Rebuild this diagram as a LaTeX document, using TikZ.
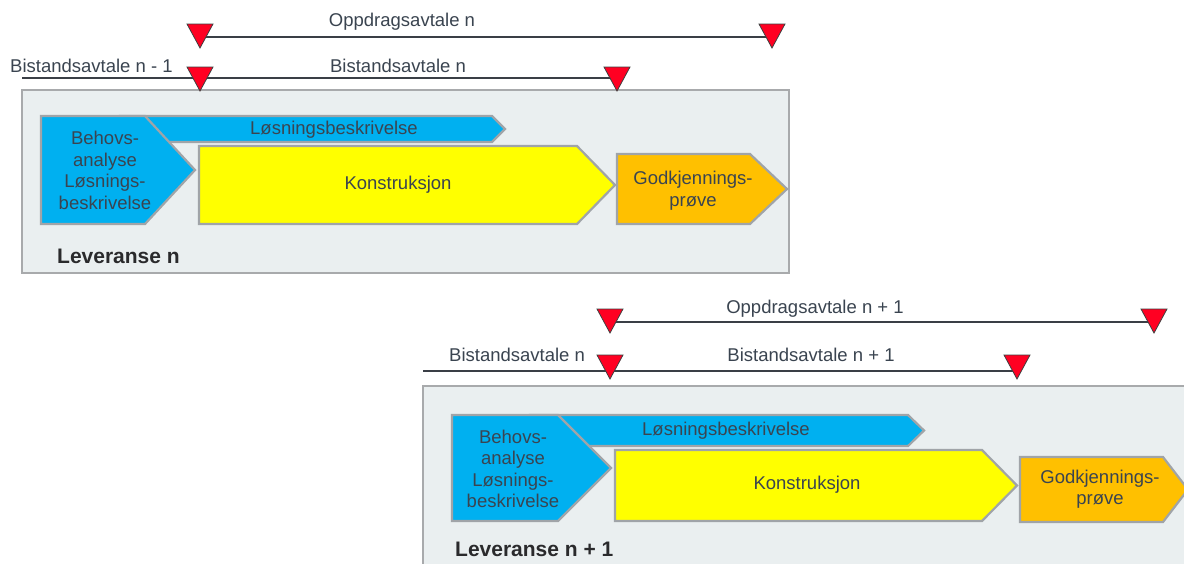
\documentclass[tikz,border=0pt]{standalone}
\usepackage{fontspec}
\setmainfont{Liberation Sans}
\begin{document}
\begin{tikzpicture}[x=1pt,y=-1pt,
  txt/.style={text=textc,font=\fontsize{18.5}{21.5}\selectfont,inner sep=0pt,align=center},
  bold/.style={text=boldc,font=\fontsize{21}{24}\selectfont\bfseries,inner sep=0pt,anchor=west},
  tline/.style={draw=linec,line width=1.6},
  redmark/.style={fill=markred,draw=black!75,line width=0.8},
  frame/.style={fill=boxfill,draw=boxborder,line width=2.5},
  blueshape/.style={fill=blueF,draw=shapeborder,line width=2.2},
  yellowshape/.style={fill=yellowF,draw=shapeborder,line width=2.2},
  orangeshape/.style={fill=orangeF,draw=shapeborder,line width=2.2}]
\definecolor{textc}{HTML}{3A4450}
\definecolor{boldc}{HTML}{2A2A2C}
\definecolor{linec}{HTML}{3A3F46}
\definecolor{markred}{HTML}{FF0022}
\definecolor{boxfill}{HTML}{EAEFF0}
\definecolor{boxborder}{HTML}{A8AAAC}
\definecolor{shapeborder}{HTML}{A0A4A8}
\definecolor{blueF}{HTML}{00B0F0}
\definecolor{yellowF}{HTML}{FFFF00}
\definecolor{orangeF}{HTML}{FFC000}
\clip (0,0) rectangle (1184,563);
\fill[white] (0,0) rectangle (1184,563);

% ================= TOP =================
\coordinate (o1s) at (200,37);
\coordinate (o1e) at (772,37);
\coordinate (b1s) at (22,78);
\coordinate (b1e) at (617,78);
\draw[tline] (o1s) -- (o1e);
\draw[tline] (b1s) -- (b1e);
\node[txt] (o1t) at (402,22) {Oppdragsavtale n};
\node[txt,anchor=west] (b0t) at (10,66) {Bistandsavtale n - 1};
\node[txt] (b1t) at (398,66) {Bistandsavtale n};

\draw[frame] (22,90) rectangle (789,273);
\node[bold] (lev1) at (57,256) {Leveranse n};

\draw[blueshape] (120,116) -- (492,116) -- (505,129) -- (492,142) -- (120,142) -- cycle;
\node[txt] (ls1) at (334,130) {Løsningsbeskrivelse};
\draw[blueshape] (41,116) -- (145,116) -- (195,170) -- (145,224) -- (41,224) -- cycle;
\node[txt] (ba1) at (105,170.5) {Behovs-\\analyse\\Løsnings-\\beskrivelse};
\draw[yellowshape] (199,146) -- (577,146) -- (615,185) -- (577,224) -- (199,224) -- cycle;
\node[txt] (k1) at (398,185) {Konstruksjon};
\draw[orangeshape] (617,154) -- (750,154) -- (787,189) -- (750,224) -- (617,224) -- cycle;
\node[txt] (g1) at (693,190.5) {Godkjennings-\\prøve};

\draw[redmark] (187,24) -- (213,24) -- (200,48) -- cycle;
\draw[redmark] (759,24) -- (785,24) -- (772,48) -- cycle;
\draw[redmark] (187,67) -- (213,67) -- (200,91) -- cycle;
\draw[redmark] (604,67) -- (630,67) -- (617,91) -- cycle;

% ================= BOTTOM =================
\coordinate (o2s) at (610,322);
\coordinate (o2e) at (1154,322);
\coordinate (b2s) at (423,371);
\coordinate (b2e) at (1017,371);
\draw[tline] (o2s) -- (o2e);
\draw[tline] (b2s) -- (b2e);
\node[txt] (o2t) at (815,309) {Oppdragsavtale n + 1};
\node[txt,anchor=west] (b1bt) at (449,355) {Bistandsavtale n};
\node[txt] (b2t) at (811,355) {Bistandsavtale n + 1};

\draw[frame] (423,386) rectangle (1200,600);
\node[bold] (lev2) at (455,549) {Leveranse n + 1};

\draw[blueshape] (530,415) -- (908,415) -- (924,430.5) -- (908,446) -- (530,446) -- cycle;
\node[txt] (ls2) at (726,431) {Løsningsbeskrivelse};
\draw[blueshape] (452,415) -- (558,415) -- (611,468) -- (558,521) -- (452,521) -- cycle;
\node[txt] (ba2) at (513,469) {Behovs-\\analyse\\Løsnings-\\beskrivelse};
\draw[yellowshape] (615,450) -- (982,450) -- (1017,485.5) -- (982,521) -- (615,521) -- cycle;
\node[txt] (k2) at (807,485) {Konstruksjon};
\draw[orangeshape] (1020,457) -- (1163,457) -- (1188,489.5) -- (1163,522) -- (1020,522) -- cycle;
\node[txt] (g2) at (1100,489) {Godkjennings-\\prøve};

\draw[redmark] (597,309) -- (623,309) -- (610,333) -- cycle;
\draw[redmark] (1141,309) -- (1167,309) -- (1154,333) -- cycle;
\draw[redmark] (597,355) -- (623,355) -- (610,379) -- cycle;
\draw[redmark] (1004,355) -- (1030,355) -- (1017,379) -- cycle;
\end{tikzpicture}
\end{document}
